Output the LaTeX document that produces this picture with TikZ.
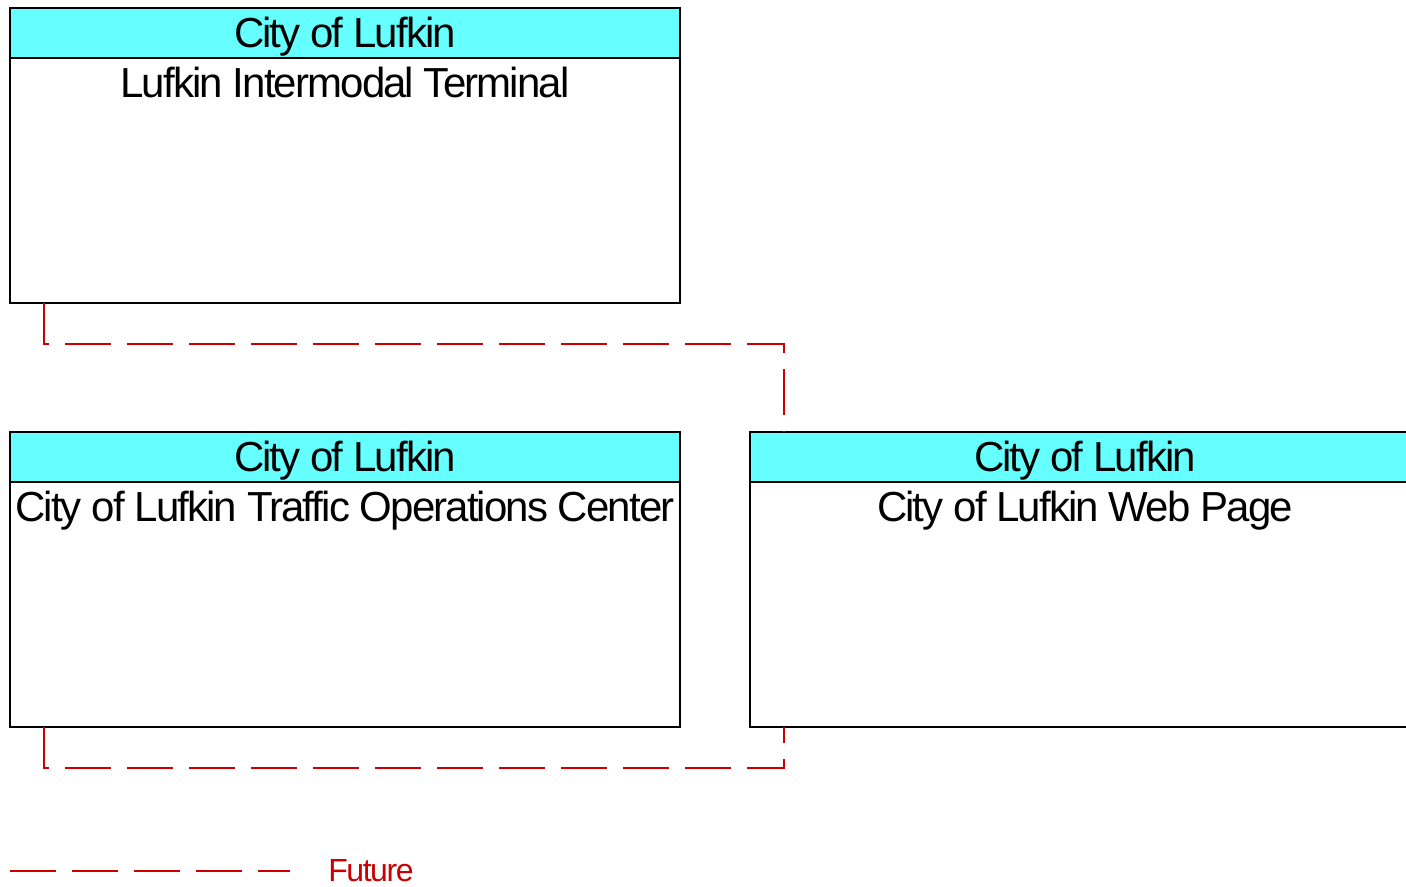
\documentclass[tikz,border=0pt]{standalone}
\usepackage{fontspec}
\setmainfont{Liberation Sans}[LetterSpace=-4.5]
\usepackage{xcolor}
\usetikzlibrary{positioning}
\definecolor{hdcyan}{HTML}{66FFFF}
\definecolor{futred}{HTML}{CC0000}

\begin{document}
\begin{tikzpicture}[x=0.75pt,y=-0.75pt,node distance=0pt,every node/.style={font=\fontsize{31.5}{36}\selectfont}]
\tikzstyle{hd}=[draw,fill=hdcyan,line width=1.1pt,outer sep=0pt,minimum width=502.5pt,minimum height=37.5pt,text height=22.5pt,text depth=0pt,inner sep=0pt]
\tikzstyle{bd}=[draw,fill=white,line width=1.1pt,outer sep=0pt,minimum width=502.5pt,minimum height=183.75pt,inner sep=0pt]
\tikzstyle{txt}=[anchor=north,inner sep=0pt,yshift=-6.75pt]
\tikzstyle{fut}=[draw=futred,line width=1.3pt,dash pattern=on 34.5pt off 12pt]
\useasboundingbox[fill=white] (0,0) rectangle (1406,887);
% systems
\node[hd,anchor=north west] (litH) at (10,8) {City of Lufkin};
\node[bd,below=of litH,label={[txt]north:Lufkin Intermodal Terminal}] (lit) {};
\node[hd,below=96.75pt of lit] (tocH) {City of Lufkin};
\node[bd,below=of tocH,label={[txt]north:City of Lufkin Traffic Operations Center}] (toc) {};
\node[hd,right=52.5pt of tocH] (webH) {City of Lufkin};
\node[bd,below=of webH,label={[txt]north:City of Lufkin Web Page}] (web) {};
% flows
\draw[fut] ([xshift=25.5pt]lit.south west) -- ++(0,41) -| ([xshift=25.5pt]webH.north west);
\draw[fut] ([xshift=25.5pt]toc.south west) -- ++(0,41) -| ([xshift=25.5pt]web.south west);
% legend
\coordinate (legA) at (10,871);
\coordinate (legB) at (290,871);
\draw[fut] (legA) -- (legB);
\node[right=28.5pt of legB,inner sep=0pt,text=futred,font=\fontsize{24}{28}\selectfont] (future) {Future};
\end{tikzpicture}
\end{document}
